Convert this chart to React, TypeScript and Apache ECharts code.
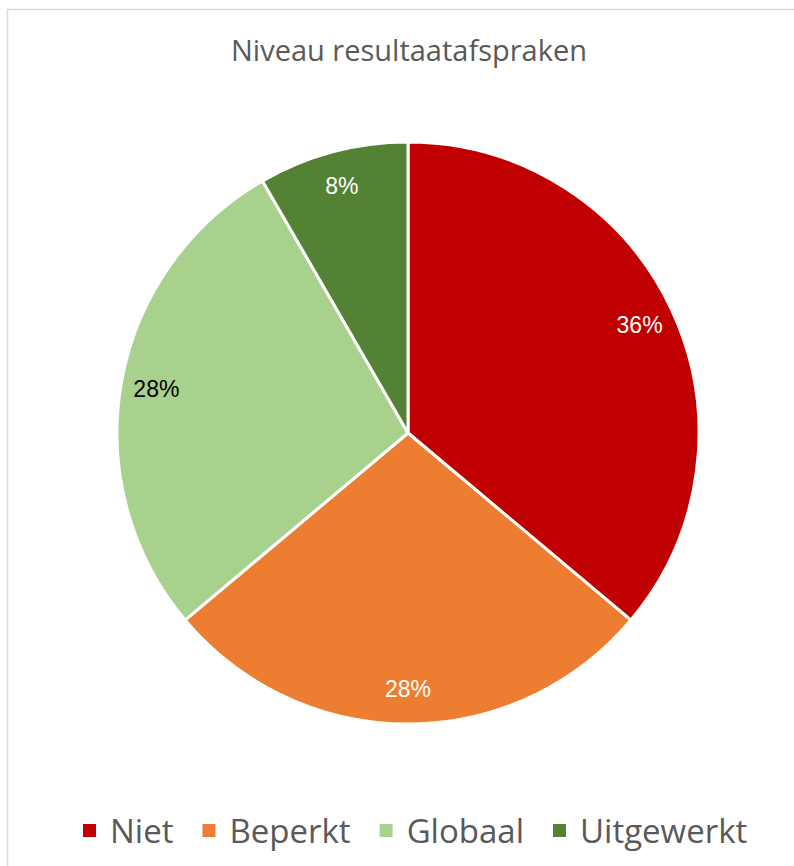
import React, { useEffect, useRef } from "react";
import * as echarts from "echarts";

const categories = ["Niet", "Beperkt", "Globaal", "Uitgewerkt"];
const values = [13, 10, 10, 3];
const colors = ["#C00000", "#ED7D31", "#A9D18E", "#548235"];
const labelColors = ["#ffffff", "#ffffff", "#000000", "#ffffff"];

export default function App() {
  const ref = useRef<HTMLDivElement>(null);
  useEffect(() => {
    if (!ref.current) return;
    const chart = echarts.init(ref.current, null, { renderer: "svg" });
    const data = categories.map((name, i) => ({
      name,
      value: values[i],
      itemStyle: { color: colors[i] },
    }));
    const labelData = categories.map((name, i) => ({
      name,
      value: values[i],
      label: { color: labelColors[i] },
    }));
    chart.setOption({
      animation: false,
      backgroundColor: "#ffffff",
      title: {
        text: "Niveau resultaatafspraken",
        left: 226,
        top: 30,
        textStyle: { fontFamily: "Open Sans", fontSize: 29, fontWeight: "normal", color: "#595959" },
      },
      legend: {
        data: categories,
        bottom: 14,
        left: 76,
        itemWidth: 15,
        itemHeight: 15,
        itemGap: 27,
        icon: "rect",
        textStyle: { fontFamily: "Open Sans", fontSize: 33, color: "#595959", padding: [0, 0, 0, 8] },
      },
      graphic: [
        {
          type: "rect",
          shape: { x: 7.5, y: 9.5, width: 800, height: 870 },
          style: { fill: "none", stroke: "#d9d9d9", lineWidth: 1.5 },
          silent: true,
        },
      ],
      series: [
        {
          type: "pie",
          center: [408, 433],
          radius: [0, 291],
          startAngle: 90,
          clockwise: true,
          data,
          label: { show: false },
          labelLine: { show: false },
          itemStyle: { borderColor: "#ffffff", borderWidth: 3 },
          emphasis: { disabled: true },
          silent: true,
        },
        {
          type: "pie",
          center: [408, 433],
          radius: [214, 291],
          startAngle: 90,
          clockwise: true,
          data: labelData,
          itemStyle: { color: "rgba(0,0,0,0)" },
          label: {
            show: true,
            position: "inside",
            fontFamily: "Liberation Sans",
            fontSize: 23,
            formatter: (p: any) => Math.round(p.percent) + "%",
          },
          labelLine: { show: false },
          emphasis: { disabled: true },
          silent: true,
        },
      ],
    });
    return () => chart.dispose();
  }, []);
  return (
    <div
      ref={ref}
      style={{ position: "fixed", left: 0, top: 0, width: 794, height: 866 }}
    />
  );
}
